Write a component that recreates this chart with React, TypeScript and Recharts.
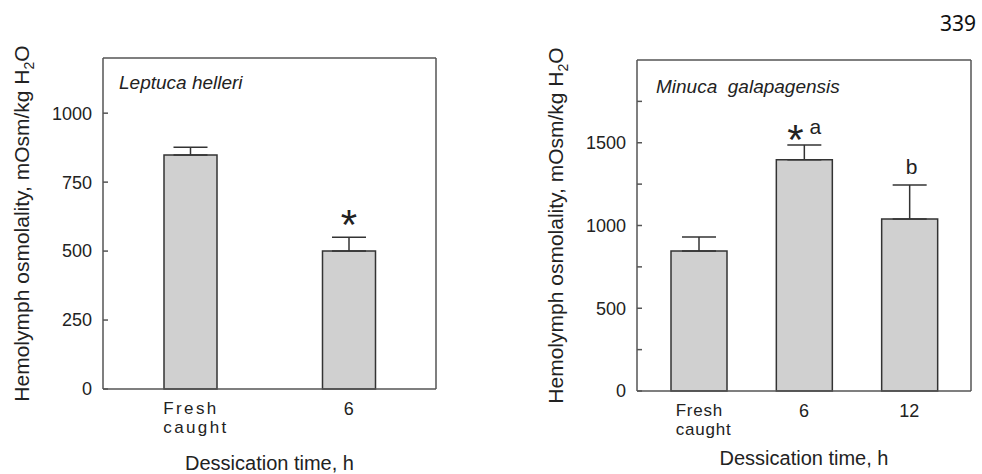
import { Bar, BarChart, ErrorBar, XAxis, YAxis } from "recharts";

const FONT = '"Liberation Sans", Arial, sans-serif';
const INK = "#222";
const AXIS = "#555";
const BAR_FILL = "#d0d0d0";

// Leptuca helleri
const hellCats = ["Fresh\ncaught", "6"];
const hellMeans = [848, 500];
const hellErr = [28, 50];
const hellStars = ["", "*"];
const hellLetters = ["", ""];
const hellTicks = [0, 250, 500, 750, 1000];

// Minuca galapagensis
const galaCats = ["Fresh\ncaught", "6", "12"];
const galaMeans = [846, 1397, 1040];
const galaErr = [85, 90, 205];
const galaStars = ["", "*", ""];
const galaLetters = ["", "a", "b"];
const galaTicks = [0, 250, 500, 750, 1000, 1250, 1500, 1750];

type PanelProps = {
	cats: string[];
	means: number[];
	errs: number[];
	stars: string[];
	letters: string[];
	ticks: number[];
	labelStep: number;
	yMax: number;
	title: string;
	width: number;
	left: number;
	yAxisW: number;
	margin: { top: number; right: number; bottom: number };
	barSize: number;
	catPad: number;
	catOffset: number;
	catSpacing: number;
	yLabelX: number;
	titleDx: number;
	titleDy: number;
	starGap: number;
	xTitleDy: number;
};

function Panel(p: PanelProps) {
	const data = p.cats.map((c, i) => ({
		cat: c,
		value: p.means[i],
		err: [0, p.errs[i]],
	}));

	const catTick = (t: any) => {
		const lines = String(t.payload.value).split("\n");
		if (lines.length === 1) {
			return (
				<text x={t.x} y={t.y + 26} textAnchor="middle" fontSize={18} fontFamily={FONT} fill={INK}>
					{lines[0]}
				</text>
			);
		}
		const sx = t.x - p.catOffset;
		return (
			<g>
				{lines.map((l, i) => (
					<text key={i} x={sx} y={t.y + 25 + i * 19} textAnchor="start" fontSize={17} fontFamily={FONT} fill={INK} letterSpacing={p.catSpacing}>
						{l}
					</text>
				))}
			</g>
		);
	};

	const annot = (props: any) => {
		const vb = props.viewBox ?? props;
		const i = props.index;
		if (i == null) return null;
		const { x, y, width, height } = vb;
		const cx = x + width / 2;
		const errTop = y - (p.errs[i] * height) / p.means[i];
		const star = p.stars[i];
		const letter = p.letters[i];
		return (
			<g>
				{star && (
					<text x={letter ? cx - 9 : cx} y={errTop + 25 - p.starGap} textAnchor="middle" fontSize={42} fontFamily={FONT} fill={INK}>
						{star}
					</text>
				)}
				{letter && (
					<text x={star ? cx + 11 : cx + 2} y={errTop - 11} textAnchor="middle" fontSize={21} fontFamily={FONT} fill={INK}>
						{letter}
					</text>
				)}
			</g>
		);
	};

	return (
		<div style={{ position: "absolute", left: p.left, top: 0 }}>
			<BarChart
				width={p.width}
				height={474}
				data={data}
				margin={{ top: p.margin.top - 1, right: p.margin.right - 1, bottom: 0, left: 0 }}
			>
				<XAxis
					dataKey="cat"
					height={p.margin.bottom}
					tickLine={false}
					tickSize={0}
					tickMargin={0}
					padding={{ left: p.catPad, right: p.catPad }}
					axisLine={{ stroke: AXIS, strokeWidth: 1.5 }}
					tick={catTick}
					interval={0}
					label={(lp: any) => {
						const vb = lp.viewBox;
						return (
							<text x={vb.x + vb.width / 2} y={vb.y + p.xTitleDy} textAnchor="middle" fontSize={20} fontFamily={FONT} fill={INK}>
								Dessication time, h
							</text>
						);
					}}
				/>
				<XAxis
					xAxisId="top"
					dataKey="cat"
					orientation="top"
					height={1}
					tick={false}
					tickLine={false}
					axisLine={{ stroke: AXIS, strokeWidth: 1.5 }}
				/>
				<YAxis
					type="number"
					width={p.yAxisW}
					domain={[0, p.yMax]}
					ticks={p.ticks}
					interval={0}
					tickSize={-5}
					tickMargin={16}
					tickLine={{ stroke: AXIS, strokeWidth: 1.5 }}
					axisLine={{ stroke: AXIS, strokeWidth: 1.5 }}
					tick={{ fontSize: 18, fontFamily: FONT, fill: INK }}
					tickFormatter={(v: number) => (v % p.labelStep === 0 ? String(v) : "")}
					label={(lp: any) => {
						const vb = lp.viewBox;
						const bx = vb.x + p.yLabelX;
						const cy = vb.y + vb.height / 2;
						return (
							<g>
								<text x={bx} y={cy} transform={`rotate(-90 ${bx} ${cy})`} textAnchor="middle" fontSize={21} fontFamily={FONT} fill={INK}>
									Hemolymph osmolality, mOsm/kg H
									<tspan fontSize={14} dy={5}>2</tspan>
									<tspan dy={-5}>O</tspan>
								</text>
								<text x={vb.x + vb.width + p.titleDx} y={vb.y + p.titleDy} fontSize={19} fontStyle="italic" fontFamily={FONT} fill={INK} style={{ whiteSpace: "pre" }}>
									{p.title}
								</text>
							</g>
						);
					}}
				/>
				<YAxis
					yAxisId="right"
					orientation="right"
					type="number"
					width={1}
					domain={[0, p.yMax]}
					ticks={p.ticks}
					interval={0}
					tick={false}
					tickSize={-5}
					tickLine={{ stroke: AXIS, strokeWidth: 1.5 }}
					axisLine={{ stroke: AXIS, strokeWidth: 1.5 }}
				/>
				<Bar
					dataKey="value"
					barSize={p.barSize}
					fill={BAR_FILL}
					stroke="#333"
					strokeWidth={1.5}
					isAnimationActive={false}
					label={annot}
				>
					<ErrorBar dataKey="err" direction="y" width={17} stroke="#333" strokeWidth={1.5} />
				</Bar>
			</BarChart>
		</div>
	);
}

export default function App() {
	return (
		<div style={{ position: "fixed", left: 0, top: 0, width: 982, height: 474, background: "#fff" }}>
			<Panel
				cats={hellCats}
				means={hellMeans}
				errs={hellErr}
				stars={hellStars}
				letters={hellLetters}
				ticks={hellTicks}
				labelStep={250}
				yMax={1200}
				title="Leptuca helleri"
				width={460}
				left={0}
				yAxisW={103}
				margin={{ top: 58, right: 24, bottom: 85 }}
				barSize={53}
				catPad={8}
				catOffset={27}
				catSpacing={2.4}
				yLabelX={29}
				titleDx={16}
				titleDy={31}
				starGap={23}
				xTitleDy={81}
			/>
			<Panel
				cats={galaCats}
				means={galaMeans}
				errs={galaErr}
				stars={galaStars}
				letters={galaLetters}
				ticks={galaTicks}
				labelStep={500}
				yMax={2000}
				title="Minuca  galapagensis"
				width={462}
				left={520}
				yAxisW={117}
				margin={{ top: 60, right: 11, bottom: 83 }}
				barSize={56}
				catPad={9}
				catOffset={23}
				catSpacing={0.8}
				yLabelX={43}
				titleDx={19}
				titleDy={33}
				starGap={16}
				xTitleDy={74}
			/>
			<svg width={982} height={474} style={{ position: "absolute", left: 0, top: 0, pointerEvents: "none" }}>
				<text x={976} y={31} textAnchor="end" fontSize={21} fontFamily='"Noto Sans", sans-serif' fill="#111">
					339
				</text>
			</svg>
		</div>
	);
}
